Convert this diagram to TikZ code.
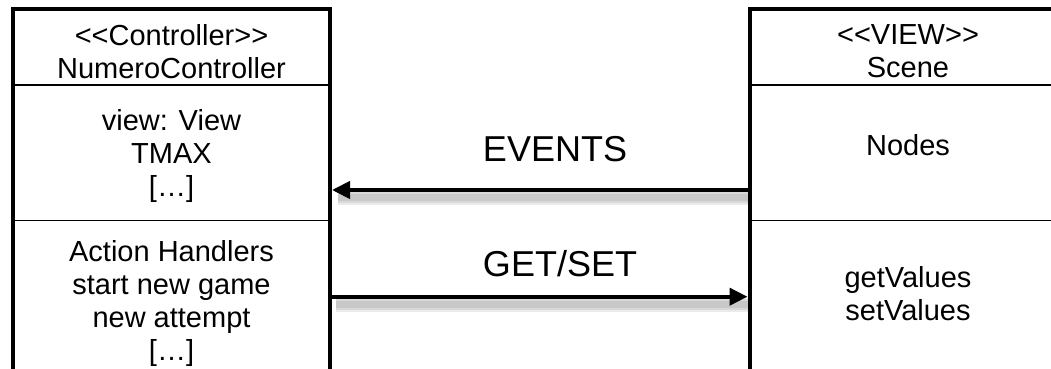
\documentclass[tikz,border=0pt]{standalone}
\usepackage{fontspec}
\setmainfont{Liberation Sans}[Ligatures=TeXOff]
\usepackage{xcolor}
\usetikzlibrary{arrows.meta,positioning}

\begin{document}
\begin{tikzpicture}[x=1pt,y=1pt,
  classbox/.style={draw,line width=4pt,minimum width=317pt,minimum height=400pt,inner sep=0pt},
  part/.style={line width=1.3pt},
  member/.style={align=center,inner sep=0pt,font=\fontsize{29}{33}\selectfont},
  msglabel/.style={inner sep=0pt,anchor=base,font=\fontsize{36}{40}\selectfont},
  msg/.style={line width=4pt,-{Triangle[length=18pt,width=17pt]}},
  msgshadow/.style={line width=#1,black,opacity=0.08}]
\clip (0,0) rectangle (1051,369);
% the two classes
\node[classbox] (ctrl) at (171.5,160.3) {};
\node[classbox] (view) at (908,160.3) {};
\foreach \y in {284,148.3} {
  \draw[part] (ctrl.west |- 0,\y) -- (ctrl.east |- 0,\y);
  \draw[part] (view.west |- 0,\y) -- (view.east |- 0,\y);
}
\node[member] (ctrlhead) at (171.5,317.5) {<<Controller>>\\NumeroController};
\node[member] (ctrlattr) at (171.5,212.5) {view: View\\TMAX\\{[…]}};
\node[member] (ctrlops) at (171.5,65) {Action Handlers\\start new game\\new attempt\\{[…]}};
\node[member] (viewhead) at (908,318) {<<VIEW>>\\Scene};
\node[member,anchor=base] (viewattr) at (908,213) {Nodes};
\node[member] (viewops) at (908,75.5) {getValues\\setValues};
% messages
\node[msglabel] (events) at (555,207) {EVENTS};
\node[msglabel] (getset) at (560,92) {GET/SET};
\coordinate (evfrom) at (view.west |- 0,179);
\coordinate (evto) at (ctrl.east |- 0,179);
\coordinate (gsfrom) at (ctrl.east |- 0,72.3);
\coordinate (gsto) at (view.west |- 0,72.3);
\foreach \w in {15,11,7} {
  \draw[msgshadow=\w pt] ([yshift=-8pt]evfrom) -- ([xshift=6pt,yshift=-8pt]evto);
  \draw[msgshadow=\w pt] ([xshift=4pt,yshift=-8pt]gsfrom) -- ([yshift=-8pt]gsto);
}
\draw[msg] (evfrom) -- (evto);
\draw[msg] (gsfrom) -- (gsto);
\end{tikzpicture}
\end{document}
